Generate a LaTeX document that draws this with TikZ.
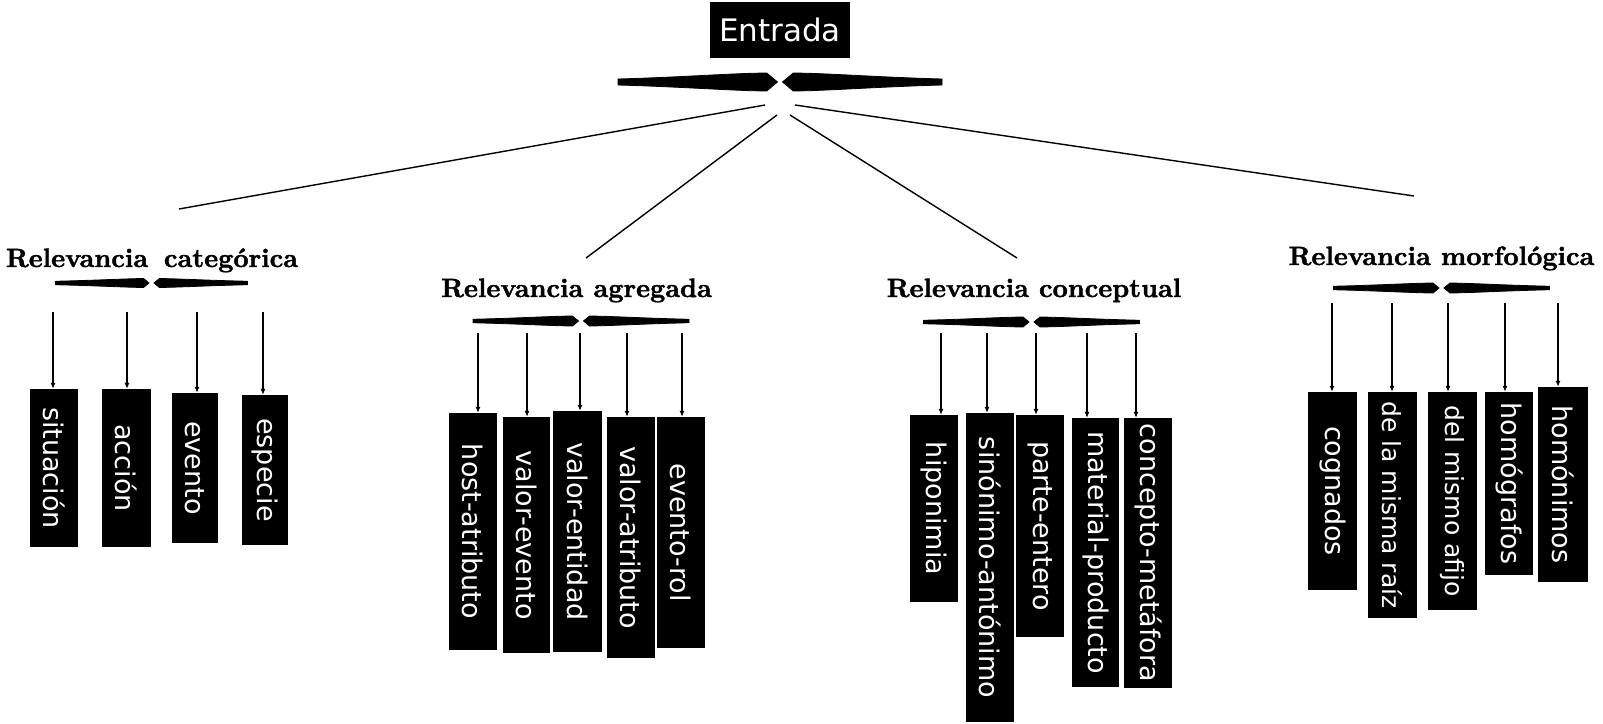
\documentclass[tikz,border=0pt]{standalone}
\usepackage{fontspec}
\newfontfamily\boxfont{DejaVu Sans}
\newfontfamily\hdfont{lmroman10-bold.otf}[FakeBold=1.6]
\usetikzlibrary{arrows.meta}
% cx, cy, half length, thick end, thin end
\newcommand\spearpair[5]{%
  \filldraw[line width=0.8pt, line join=round]
     ({#1-#3},{#2-#5/2}) .. controls ({#1-#3*0.6},{#2-#5/2-(#4-#5)*0.15}) and ({#1-#3*0.3},{#2-#4/2+0.3}) .. ({#1-2.5-#4*0.6},{#2-#4/2})
     -- ({#1-2.5},#2) -- ({#1-2.5-#4*0.6},{#2+#4/2})
     .. controls ({#1-#3*0.3},{#2+#4/2-0.3}) and ({#1-#3*0.6},{#2+#5/2+(#4-#5)*0.15}) .. ({#1-#3},{#2+#5/2}) -- cycle;
  \filldraw[line width=0.8pt, line join=round]
     ({#1+#3},{#2-#5/2}) .. controls ({#1+#3*0.6},{#2-#5/2-(#4-#5)*0.15}) and ({#1+#3*0.3},{#2-#4/2+0.3}) .. ({#1+2.5+#4*0.6},{#2-#4/2})
     -- ({#1+2.5},#2) -- ({#1+2.5+#4*0.6},{#2+#4/2})
     .. controls ({#1+#3*0.3},{#2+#4/2-0.3}) and ({#1+#3*0.6},{#2+#5/2+(#4-#5)*0.15}) .. ({#1+#3},{#2+#5/2}) -- cycle;}
\tikzset{
  bx/.style={fill=black, text=white, inner sep=0pt, font=\boxfont\fontsize{27}{30}\selectfont},
  bxs/.style={bx, font=\boxfont\fontsize{25}{30}\selectfont},
  hd/.style={anchor=base, inner sep=0pt, font=\hdfont\fontsize{26.5}{30}\selectfont},
  ln/.style={line width=1.4pt},
  arr/.style={line width=1.1pt, -{Latex[length=6pt,width=5pt]}}
}
\begin{document}
\begin{tikzpicture}[x=1pt,y=-1pt]
\useasboundingbox (0,0) rectangle (1603,723);
\fill[white] (0,0) rectangle (1603,723);

% top
\node[bx, font=\boxfont\fontsize{31}{34}\selectfont, minimum width=140pt, minimum height=56pt] (entrada) at (780,30) {Entrada};
\spearpair{780}{82}{162}{18}{6}

% headers
\node[hd] (h1) at (152,267) {Relevancia\hspace{0.6em}categórica};
\node[hd] (h2) at (576.5,297) {Relevancia agregada};
\node[hd] (h3) at (1034,297) {Relevancia conceptual};
\node[hd] (h4) at (1441.5,265) {Relevancia morfológica};

% lines from top
\coordinate (t1) at (765,105); \coordinate (e1) at (179,209);
\coordinate (t2) at (777,115); \coordinate (e2) at (586,258);
\coordinate (t3) at (790,115); \coordinate (e3) at (1017,258);
\coordinate (t4) at (795,105); \coordinate (e4) at (1414,196);
\draw[ln] (t1) -- (e1);
\draw[ln] (t2) -- (e2);
\draw[ln] (t3) -- (e3);
\draw[ln] (t4) -- (e4);

% braces under headers
\spearpair{151.5}{283}{96}{9}{3.5}
\spearpair{581}{321}{108}{10}{3.5}
\spearpair{1031.5}{322}{108}{10}{3.5}
\spearpair{1441.5}{288}{108}{10}{3.5}

% group 1
\node[bx, minimum width=48pt, minimum height=158pt] (a1) at (54,468) {\rotatebox{-90}{situación}};
\node[bx, minimum width=49pt, minimum height=158pt] (a2) at (126.5,468) {\rotatebox{-90}{acción}};
\node[bx, minimum width=46pt, minimum height=150pt] (a3) at (195,468) {\rotatebox{-90}{evento}};
\node[bx, minimum width=46pt, minimum height=150pt] (a4) at (265,470) {\rotatebox{-90}{especie}};

% group 2
\node[bx, minimum width=48pt, minimum height=237pt] (b1) at (473,531.5) {\rotatebox{-90}{host-atributo}};
\node[bx, minimum width=47pt, minimum height=236pt] (b2) at (526.5,535) {\rotatebox{-90}{valor-evento}};
\node[bx, minimum width=49pt, minimum height=241pt] (b3) at (577.5,531.5) {\rotatebox{-90}{valor-entidad}};
\node[bx, minimum width=48pt, minimum height=241pt] (b4) at (631,537.5) {\rotatebox{-90}{valor-atributo}};
\node[bx, minimum width=48pt, minimum height=231pt] (b5) at (681,532.5) {\rotatebox{-90}{evento-rol}};

% group 3
\node[bx, minimum width=48pt, minimum height=187pt] (c1) at (934,508.5) {\rotatebox{-90}{hiponimia}};
\node[bx, minimum width=48pt, minimum height=309pt] (c2) at (990,567.5) {\rotatebox{-90}{sinónimo-antónimo}};
\node[bx, minimum width=48pt, minimum height=222pt] (c3) at (1040,526) {\rotatebox{-90}{parte-entero}};
\node[bx, minimum width=47pt, minimum height=269pt] (c4) at (1095.5,552.5) {\rotatebox{-90}{material-producto}};
\node[bx, minimum width=48pt, minimum height=270pt] (c5) at (1148,553) {\rotatebox{-90}{concepto-metáfora}};

% group 4
\node[bx, minimum width=49pt, minimum height=198pt] (d1) at (1332.5,491) {\rotatebox{-90}{cognados}};
\node[bxs, minimum width=49pt, minimum height=226pt] (d2) at (1392.5,505) {\rotatebox{-90}{de la misma raíz}};
\node[bxs, minimum width=49pt, minimum height=218pt] (d3) at (1452.5,501) {\rotatebox{-90}{del mismo afijo}};
\node[bx, minimum width=48pt, minimum height=183pt] (d4) at (1509,483.5) {\rotatebox{-90}{homógrafos}};
\node[bx, minimum width=50pt, minimum height=195pt] (d5) at (1563,484.5) {\rotatebox{-90}{homónimos}};

% arrows
\foreach \n/\x/\y in {a1/53/312, a2/127/312, a3/197/312, a4/263/312,
  b1/478/333, b2/527/333, b3/580/333, b4/627/333, b5/682/333,
  c1/941/333, c2/987/333, c3/1036/333, c4/1087/333, c5/1136/333,
  d1/1332/303, d2/1392/303, d3/1448/303, d4/1505/303, d5/1558/303}{
  \coordinate (s\n) at (\x,\y);
  \draw[arr] (s\n) -- (s\n |- \n.north);
}
\end{tikzpicture}
\end{document}
